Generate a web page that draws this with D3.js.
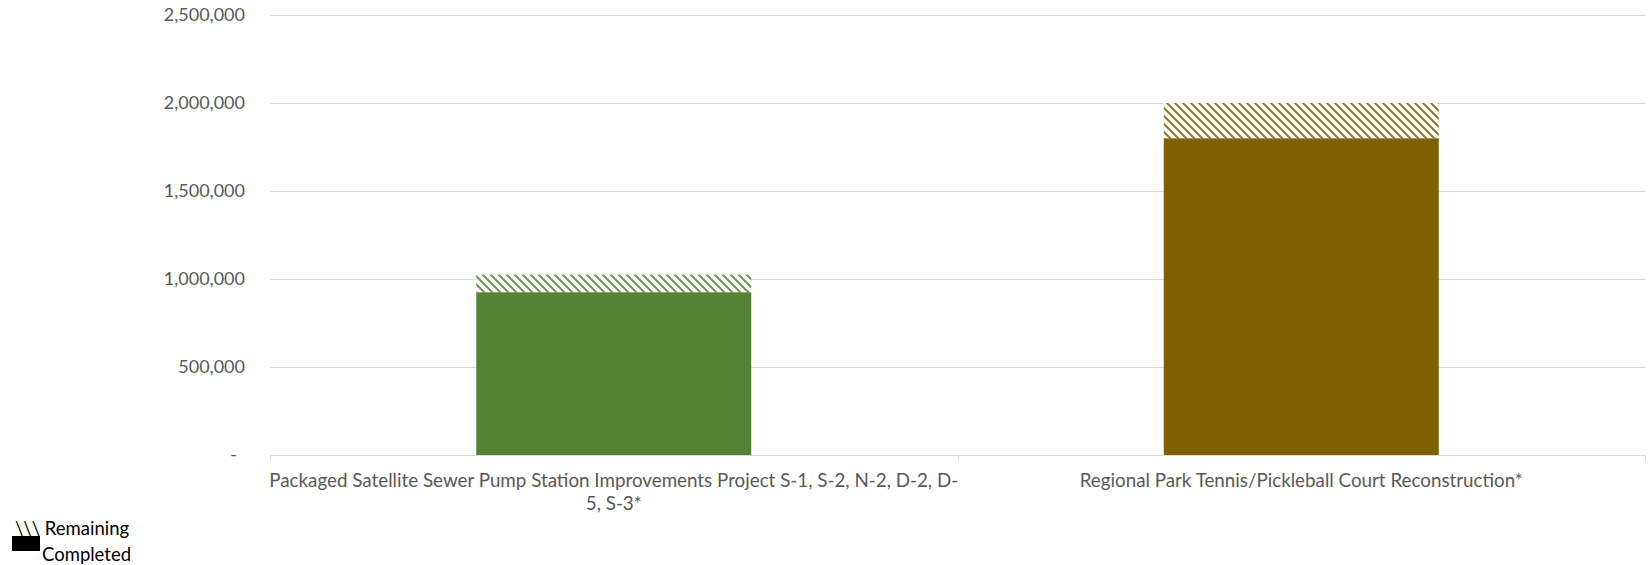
<!DOCTYPE html>
<html>
<head>
<meta charset="utf-8">
<script src="https://cdn.jsdelivr.net/npm/d3@7"></script>
<style>
  html, body { margin: 0; padding: 0; background: #fff; }
  svg { display: block; font-family: Lato, "Noto Sans", sans-serif; }
</style>
</head>
<body>
<svg id="chart" width="1648" height="565"></svg>
<script>
// Project budgets: completed work and the remaining amount on top of it
const categories = [
  "Packaged Satellite Sewer Pump Station Improvements Project S-1, S-2, N-2, D-2, D-5, S-3*",
  "Regional Park Tennis/Pickleball Court Reconstruction*"
];
const completed = [925000, 1800000];
const remaining = [100000, 200000];
const yTicks = [0, 500000, 1000000, 1500000, 2000000, 2500000];
const legendLabels = ["\\\\\\ Remaining", "Completed"];

const barColors = ["#548235", "#7f6000"];

const svg = d3.select("#chart");
const margin = { left: 270, right: 3, top: 15, bottom: 110 };
const W = 1648, H = 565;

const x = d3.scaleBand()
  .domain(categories)
  .range([margin.left, W - margin.right])
  .paddingInner(0.6)
  .paddingOuter(0.3);

const y = d3.scaleLinear()
  .domain([0, 2500000])
  .range([H - margin.bottom, margin.top]);

const rows = categories.map((c, i) => ({ category: c, completed: completed[i], remaining: remaining[i], idx: i }));
const stacked = d3.stack().keys(["completed", "remaining"])(rows);

// hatch patterns, one per bar colour
const defs = svg.append("defs");
barColors.forEach((col, i) => {
  const p = defs.append("pattern")
    .attr("id", "hatch" + i)
    .attr("patternUnits", "userSpaceOnUse")
    .attr("width", 8).attr("height", 8);
  p.append("rect").attr("width", 8).attr("height", 8).attr("fill", "#fff");
  p.append("path")
    .attr("d", "M-2,-2 L10,10 M-2,6 L2,10 M6,-2 L10,2")
    .attr("stroke", col)
    .attr("stroke-opacity", 0.85)
    .attr("stroke-width", 2);
});

// gridlines
svg.append("g")
  .selectAll("line")
  .data(yTicks.filter(d => d > 0))
  .join("line")
  .attr("x1", margin.left).attr("x2", W - margin.right)
  .attr("y1", d => Math.round(y(d)) + 0.5).attr("y2", d => Math.round(y(d)) + 0.5)
  .attr("stroke", "#d9d9d9").attr("stroke-width", 1);

// y axis labels
const fmt = d3.format(",");
svg.append("g")
  .selectAll("text")
  .data(yTicks)
  .join("text")
  .attr("x", d => d === 0 ? 237 : 245)
  .attr("y", d => y(d))
  .attr("dy", "0.35em")
  .attr("text-anchor", "end")
  .attr("fill", "#595959")
  .style("font-size", "18px")
  .text(d => d === 0 ? "-" : fmt(d));

// bars
stacked.forEach(layer => {
  svg.append("g")
    .selectAll("rect")
    .data(layer)
    .join("rect")
    .attr("x", d => x(d.data.category))
    .attr("width", x.bandwidth())
    .attr("y", d => y(d[1]))
    .attr("height", d => y(d[0]) - y(d[1]))
    .attr("fill", d => layer.key === "completed" ? barColors[d.data.idx] : `url(#hatch${d.data.idx})`);
});

// x axis line and tick marks
const x0 = y(0);
svg.append("line")
  .attr("x1", margin.left).attr("x2", W - margin.right)
  .attr("y1", Math.round(x0) + 0.5).attr("y2", Math.round(x0) + 0.5)
  .attr("stroke", "#d9d9d9").attr("stroke-width", 1.2);
const step = x.step();
const bounds = [margin.left, margin.left + step, margin.left + 2 * step];
svg.append("g")
  .selectAll("line")
  .data(bounds)
  .join("line")
  .attr("x1", d => Math.round(d) + 0.5).attr("x2", d => Math.round(d) + 0.5)
  .attr("y1", Math.round(x0)).attr("y2", Math.round(x0) + 6)
  .attr("stroke", "#d9d9d9").attr("stroke-width", 1);

// category labels, wrapped after spaces or hyphens to fit the category width
function wrapLines(text, maxWidth, measure) {
  const tokens = text.match(/[^\s-]+-?|\s+/g);
  const lines = [];
  let cur = "";
  tokens.forEach(t => {
    const trial = cur + t;
    if (cur.trim() !== "" && measure(trial.trimEnd()) > maxWidth) {
      lines.push(cur.trimEnd());
      cur = t.trimStart();
    } else {
      cur = trial;
    }
  });
  if (cur.trim() !== "") lines.push(cur.trimEnd());
  return lines;
}

const labelSize = "18.8px";
const labelG = svg.append("g");
const probe = labelG.append("text").style("font-size", labelSize);
const measure = s => { probe.text(s); return probe.node().getComputedTextLength(); };

categories.forEach(c => {
  const lines = wrapLines(c, step + 12, measure);
  const cx = x(c) + x.bandwidth() / 2;
  const t = labelG.append("text")
    .attr("text-anchor", "middle")
    .attr("fill", "#595959")
    .style("font-size", labelSize);
  lines.forEach((ln, i) => {
    t.append("tspan").attr("x", cx).attr("y", 487 + i * 22.5).text(ln);
  });
});
probe.remove();

// legend
const leg = svg.append("g");
leg.append("text")
  .attr("x", 15).attr("y", 535)
  .attr("fill", "#000")
  .style("font-size", "18.5px")
  .text(legendLabels[0]);
leg.append("rect")
  .attr("x", 12).attr("y", 536).attr("width", 28).attr("height", 15)
  .attr("fill", "#000");
leg.append("text")
  .attr("x", 42).attr("y", 561)
  .attr("fill", "#000")
  .style("font-size", "18.5px")
  .text(legendLabels[1]);
</script>
</body>
</html>
